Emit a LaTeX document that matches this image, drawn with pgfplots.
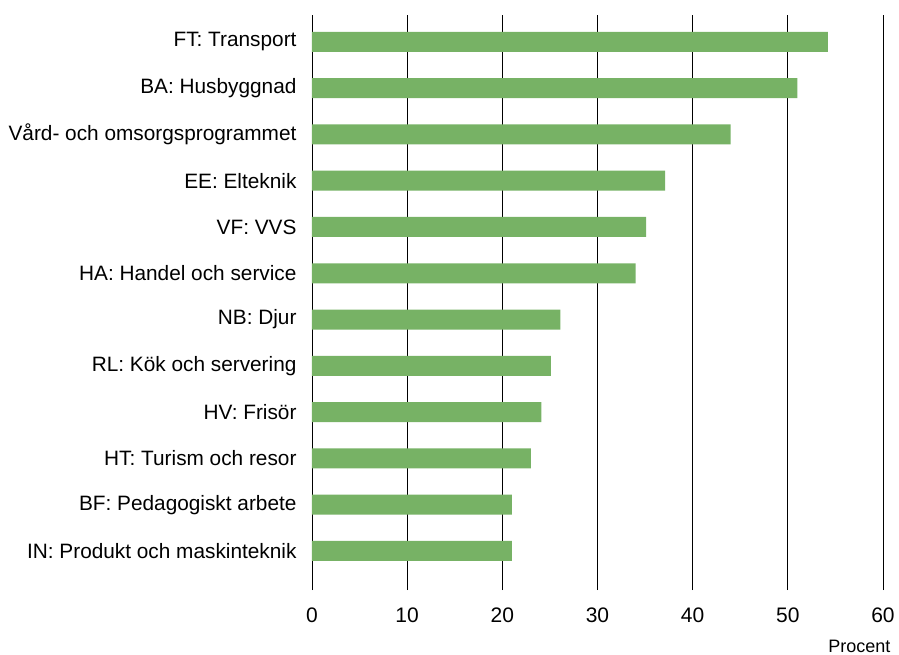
\documentclass[border=0pt]{standalone}
\usepackage{pgfplots}
\pgfplotsset{compat=1.18}
\usepackage{fontspec}
\setmainfont{Liberation Sans}
\definecolor{barg}{RGB}{119,178,101}
\begin{document}
\begin{tikzpicture}[x=1pt,y=1pt]
\useasboundingbox (-312,-64) rectangle (587,590);
\begin{axis}[
  at={(0,0)}, anchor=south west,
  scale only axis, width=571pt, height=575pt,
  xbar, bar width=20pt,
  xmin=0, xmax=60, ymin=-0.843, ymax=11.58,
  xtick={0,10,...,60},
  ytick={0,...,11},
  yticklabels={IN: Produkt och maskinteknik, BF: Pedagogiskt arbete, HT: Turism och resor, HV: Frisör, RL: Kök och servering, NB: Djur, HA: Handel och service, VF: VVS, EE: Elteknik, Vård- och omsorgsprogrammet, BA: Husbyggnad, FT: Transport},
  xmajorgrids, grid style={black, line width=0.9pt},
  axis line style={draw=none},
  major tick length=0pt,
  /pgf/number format/assume math mode=true,
  xticklabel style={font=\fontsize{21}{25}\selectfont, yshift=-14pt},
  yticklabel style={font=\fontsize{20.8}{24}\selectfont, xshift=-12pt},
]
\addplot[fill=barg, draw=none] coordinates {
(21.0,0) (21.0,1) (23.0,2) (24.1,3) (25.1,4) (26.1,5) (34.0,6) (35.1,7) (37.1,8) (44.0,9) (51.0,10) (54.2,11)};
\end{axis}
\node[anchor=base east, font=\fontsize{18}{21}\selectfont] at (582,-62) {Procent};
\end{tikzpicture}
\end{document}
